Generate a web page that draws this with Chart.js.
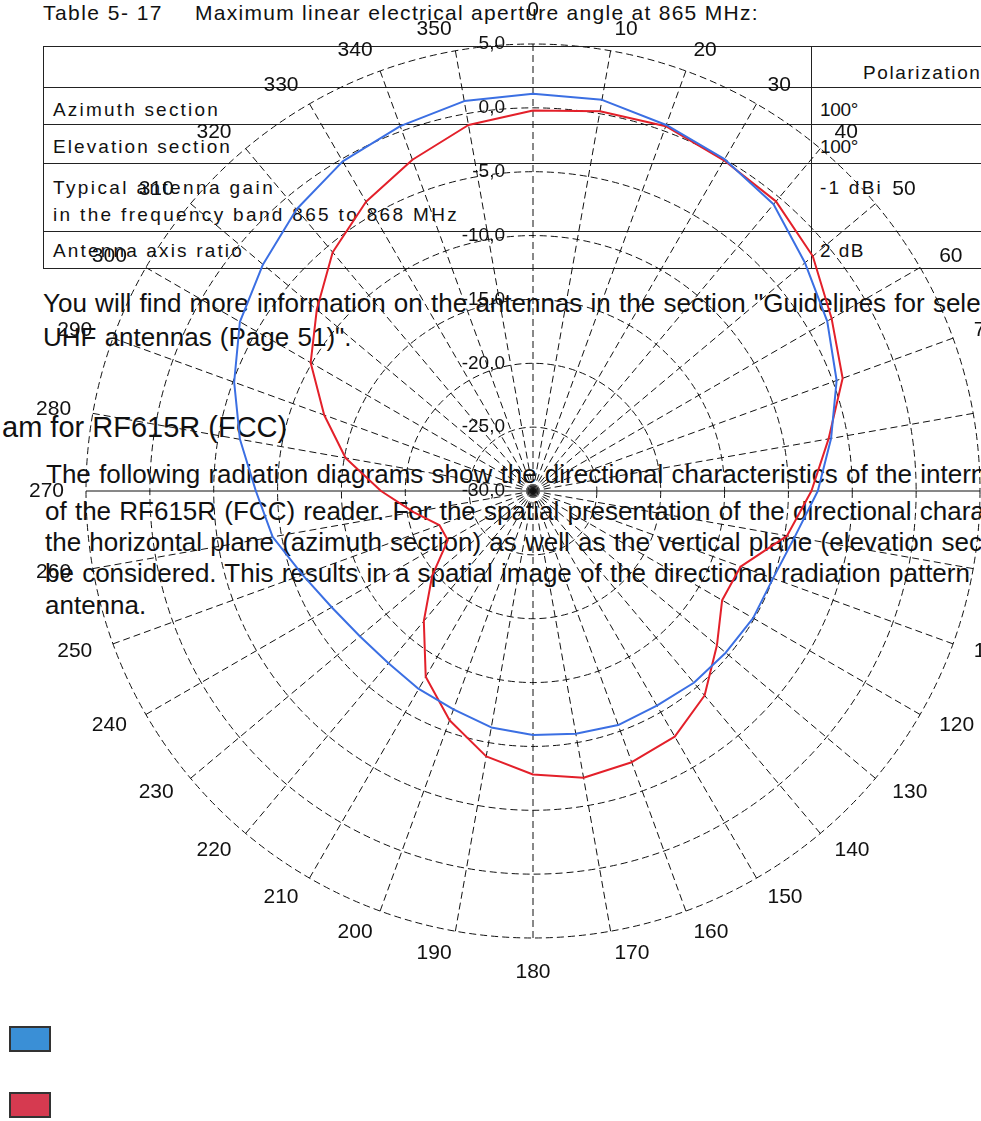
<!DOCTYPE html>
<html>
<head>
<meta charset="utf-8">
<script src="https://cdn.jsdelivr.net/npm/chart.js@4/dist/chart.umd.min.js"></script>
<style>
  html, body { margin: 0; padding: 0; background: #fff; }
  body { width: 981px; height: 1121px; overflow: hidden; position: relative;
         font-family: "Liberation Sans", Arial, sans-serif; color: #111; }
  .t { position: absolute; white-space: nowrap; line-height: 1; }
  .hl { position: absolute; height: 0; border-top: 1.5px solid #222; }
  .vl { position: absolute; width: 0; border-left: 1.5px solid #222; }
  .tb { font-size: 19px; }
  .pg { font-size: 26px; word-spacing: 1px; }
  #chartBox { position: absolute; left: 0; top: 0; width: 1100px; height: 1121px; }
  .sw { position: absolute; left: 9px; width: 38px; height: 22px; border: 2px solid #333; }
</style>
</head>
<body>
  <!-- document page behind the diagram -->
  <div class="t" style="left:43px;top:2px;font-size:21px" data-w="120">Table 5- 17</div>
  <div class="t" style="left:195px;top:2px;font-size:21px" data-w="564">Maximum linear electrical aperture angle at 865 MHz:</div>

  <div class="hl" style="left:43px;top:46px;width:940px"></div>
  <div class="hl" style="left:43px;top:87px;width:940px"></div>
  <div class="hl" style="left:43px;top:124px;width:940px"></div>
  <div class="hl" style="left:43px;top:163px;width:940px"></div>
  <div class="hl" style="left:43px;top:231px;width:940px"></div>
  <div class="hl" style="left:43px;top:268px;width:940px"></div>
  <div class="vl" style="left:43px;top:46px;height:223px"></div>
  <div class="vl" style="left:811px;top:46px;height:223px"></div>

  <div class="t tb" style="left:863px;top:63px;letter-spacing:1.6px">Polarization</div>
  <div class="t tb" style="left:53px;top:100px" data-w="167">Azimuth section</div>
  <div class="t tb" style="left:820px;top:100px" data-w="38">100°</div>
  <div class="t tb" style="left:53px;top:137px" data-w="179">Elevation section</div>
  <div class="t tb" style="left:820px;top:137px" data-w="38">100°</div>
  <div class="t tb" style="left:53px;top:178px" data-w="222">Typical antenna gain</div>
  <div class="t tb" style="left:820px;top:178px" data-w="63">-1 dBi</div>
  <div class="t tb" style="left:53px;top:205px" data-w="406">in the frequency band 865 to 868 MHz</div>
  <div class="t tb" style="left:53px;top:241px" data-w="191">Antenna axis ratio</div>
  <div class="t tb" style="left:820px;top:241px" data-w="45">2 dB</div>

  <div class="t pg" style="left:43px;top:290px">You will find more information on the antennas in the section "Guidelines for selecting</div>
  <div class="t pg" style="left:43px;top:324px">UHF antennas (Page 51)".</div>
  <div class="t" style="left:2px;top:413px;font-size:29px">am for RF615R (FCC)</div>
  <div class="t pg" style="left:46px;top:461px">The following radiation diagrams show the directional characteristics of the internal</div>
  <div class="t pg" style="left:45px;top:498px">of the RF615R (FCC) reader. For the spatial presentation of the directional characteristics,</div>
  <div class="t pg" style="left:45px;top:529px">the horizontal plane (azimuth section) as well as the vertical plane (elevation section)</div>
  <div class="t pg" style="left:45px;top:560px">be considered. This results in a spatial image of the directional radiation pattern</div>
  <div class="t pg" style="left:45px;top:592px">antenna.</div>

  <div id="chartBox"><canvas id="polar"></canvas></div>
  <div class="sw" id="sw0" style="top:1026px"></div>
  <div class="sw" id="sw1" style="top:1092px"></div>

<script>
// Bearing labels, clockwise from the top, every 10 degrees
const angleLabels = ['0','10','20','30','40','50','60','70','80','90','100','110',
  '120','130','140','150','160','170','180','190','200','210','220','230',
  '240','250','260','270','280','290','300','310','320','330','340','350'];

// Gain in dB at each bearing
const azimuthDb = [1.1, 1.1, 0.5, 0.0, -0.7, -2.2, -3.4, -4.7, -6.3, -7.7, -9.2, -10.0,
  -10.1, -10.3, -10.4, -10.6, -10.5, -10.7, -10.9, -11.2, -11.8, -12.1, -12.4, -12.3,
  -11.8, -10.8, -9.3, -8.3, -6.7, -5.1, -3.5, -2.4, -1.2, -0.2, 0.4, 1.0];

const elevationDb = [-0.2, 0.2, 0.4, -0.1, -0.4, -1.4, -3.0, -4.2, -6.5, -8.2, -9.8, -12.7,
  -12.9, -11.2, -9.1, -7.8, -7.4, -7.2, -7.8, -8.9, -10.9, -13.2, -16.7, -19.7,
  -22.3, -22.2, -20.5, -18.1, -15.1, -12.6, -9.9, -7.9, -5.6, -3.85, -2.4, -0.9];

// Ring values and the text printed beside them
const ringValues = [5, 0, -5, -10, -15, -20, -25, -30];
const ringLabels = ['5,0', '0,0', '-5,0', '-10,0', '-15,0', '-20,0', '-25,0', '-30,0'];

const lineColors = ['#3b6fe3', '#e3202a'];
const swatchColors = ['#3a8fd6', '#d63a50'];

// spread table text to its column width
document.querySelectorAll('[data-w]').forEach(el => {
  const target = +el.dataset.w;
  const natural = el.getBoundingClientRect().width;
  const n = el.textContent.length;
  el.style.letterSpacing = ((target - natural) / n).toFixed(2) + 'px';
});

const FONT = '"Liberation Sans", Arial, sans-serif';

// dB values up the 0-degree spoke, and the bearing labels around the rim
const polarLabelPlugin = {
  id: 'polarLabels',
  afterDraw(chart) {
    const s = chart.scales.r;
    const c = chart.ctx;
    c.save();
    c.fillStyle = '#111';
    c.textBaseline = 'middle';

    c.font = '19px ' + FONT;
    c.textAlign = 'right';
    ringValues.forEach((v, i) => {
      const y = s.yCenter - s.getDistanceFromCenterForValue(v);
      c.fillText(ringLabels[i], s.xCenter - 28, y);
    });

    c.font = '21px ' + FONT;
    const half = 12;
    angleLabels.forEach((txt, i) => {
      const p = s.getPointPosition(i, s.drawingArea + 22);
      const deg = i * 360 / angleLabels.length;
      let y = p.y;
      if (deg === 0) { c.textAlign = 'center'; y -= half; }
      else if (deg === 180) { c.textAlign = 'center'; y += half; }
      else c.textAlign = deg < 180 ? 'left' : 'right';
      c.fillText(txt, p.x, y);
    });
    c.restore();
  }
};

const dash = [7, 4];

new Chart(document.getElementById('polar'), {
  type: 'radar',
  data: {
    labels: angleLabels,
    datasets: [
      { label: 'Azimuth', data: azimuthDb, borderColor: lineColors[0], backgroundColor: 'transparent',
        borderWidth: 2, pointRadius: 0, fill: false, tension: 0 },
      { label: 'Elevation', data: elevationDb, borderColor: lineColors[1], backgroundColor: 'transparent',
        borderWidth: 2, pointRadius: 0, fill: false, tension: 0 }
    ]
  },
  options: {
    responsive: true,
    maintainAspectRatio: false,
    animation: false,
    layout: { padding: { left: 86, right: 120, top: 44, bottom: 183 } },
    plugins: { legend: { display: false }, tooltip: { enabled: false } },
    elements: { line: { borderJoinStyle: 'round' } },
    scales: {
      r: {
        min: -30,
        max: 5,
        ticks: { display: false, stepSize: 5 },
        grid: { circular: true, color: '#111', lineWidth: 1, borderDash: dash },
        border: { dash: dash },
        angleLines: {
          color: '#111',
          lineWidth: 1,
          borderDash: (ctx) => (ctx.index % 18 === 9 ? [] : dash)
        },
        pointLabels: { display: false }
      }
    }
  },
  plugins: [polarLabelPlugin]
});

document.getElementById('sw0').style.background = swatchColors[0];
document.getElementById('sw1').style.background = swatchColors[1];
</script>
</body>
</html>
